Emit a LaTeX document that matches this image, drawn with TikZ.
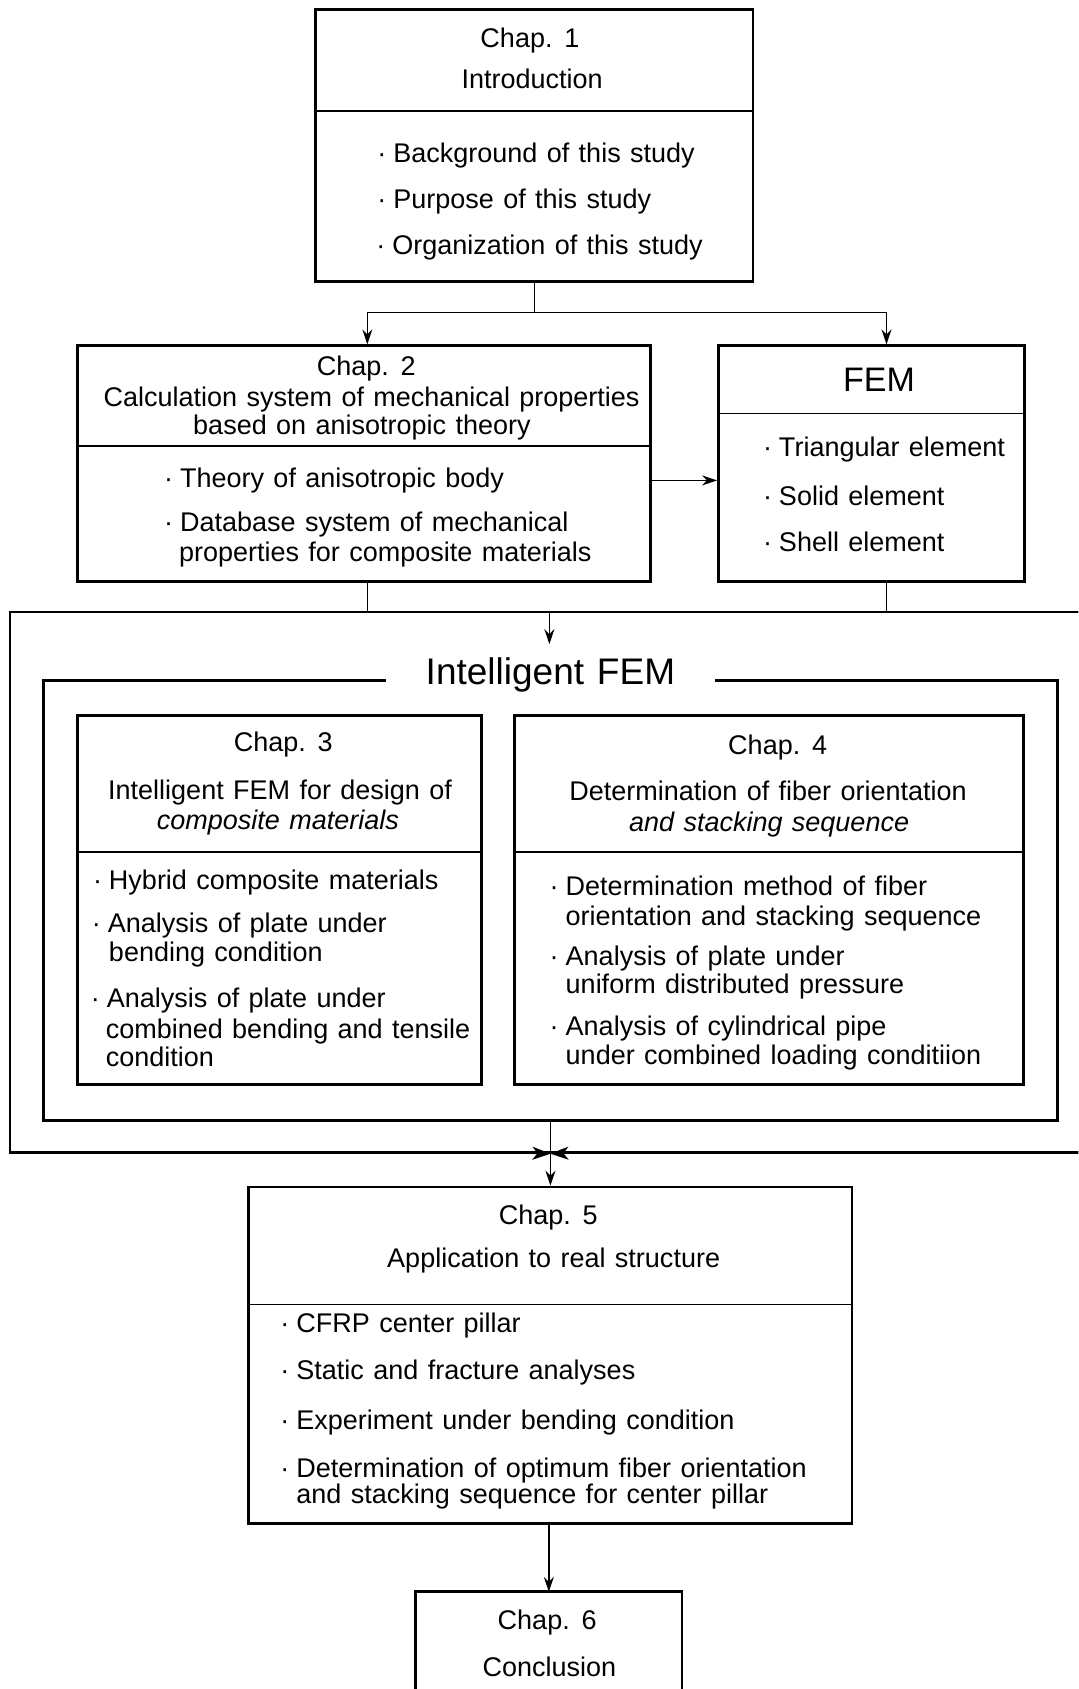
\documentclass[tikz,border=0pt]{standalone}
\usepackage{fontspec}
\setmainfont[WordSpace=1.25]{Liberation Sans}
\usetikzlibrary{fit,arrows.meta}
\newcommand\bul{\llap{·\hspace{7pt}}}
\begin{document}
\begin{tikzpicture}[x=1.0769pt,y=-1.0769pt,
  boxst/.style={draw,line width=2.8pt,inner sep=0pt},
  area/.style={inner sep=0pt},
  divl/.style={line width=1.6pt},
  ln/.style={line width=1.5pt},
  arr/.style={line width=1.5pt,-{Stealth[length=15pt,width=10pt,inset=5pt]}},
  tip/.style={line width=1.5pt,-{Stealth[length=18pt,width=13pt,inset=5pt]}},
  txt/.style={inner sep=0pt,font=\fontsize{27}{30}\selectfont},
  ctr/.style={txt,anchor=base},
  lft/.style={txt,anchor=base west},
  big/.style={inner sep=0pt,anchor=base,font=\fontsize{34}{38}\selectfont}]
\clip (0,0) rectangle (1001,1568);
\fill[white] (0,0) rectangle (1001,1568);

% Chap 1
\node[boxst,fit={(293,9) (699,261)}] (c1) {};
\draw[divl] (c1.west |- 0,103) -- (c1.east |- 0,103);
\node[ctr] (c1a) at (492,44) {Chap. 1};
\node[ctr] (c1b) at (494,82) {Introduction};
\node[lft] (c1i1) at (365,151) {\bul Background of this study};
\node[lft] (c1i2) at (365,194) {\bul Purpose of this study};
\node[lft] (c1i3) at (364,236) {\bul Organization of this study};

% Chap 2
\node[boxst,fit={(72,321) (604,540)}] (c2) {};
\draw[divl] (c2.west |- 0,414) -- (c2.east |- 0,414);
\node[ctr] (c2a) at (340,349) {Chap. 2};
\node[ctr] (c2b) at (345,377) {Calculation system of mechanical properties};
\node[ctr] (c2c) at (336,403) {based on anisotropic theory};
\node[lft] (c2i1) at (167,453) {\bul Theory of anisotropic body};
\node[lft] (c2i2) at (167,493) {\bul Database system of mechanical};
\node[lft] (c2i3) at (166,521) {properties for composite materials};

% FEM
\node[boxst,fit={(667,321) (951,540)}] (fem) {};
\draw[divl] (fem.west |- 0,384) -- (fem.east |- 0,384);
\node[big] (fema) at (816,363) {FEM};
\node[lft] (femi1) at (723,424) {\bul Triangular element};
\node[lft] (femi2) at (723,469) {\bul Solid element};
\node[lft] (femi3) at (723,512) {\bul Shell element};

% connectors top
\coordinate (j1) at (c1.south |- 0,290);
\coordinate (jl) at (341,290);
\coordinate (jr) at (823,290);
\draw[ln] (c1.south) -- (j1);
\draw[ln] (jl) -- (jr);
\draw[arr] (jl) -- (jl |- c2.north);
\draw[arr] (jr) -- (jr |- fem.north);
\draw[arr] (c2.east |- 0,446) -- (fem.west |- 0,446);

% outer area
\node[draw,line width=2.2pt,inner sep=0pt,fit={(9,568) (1020,1070)}] (outer) {};
\draw[ln] (jl |- c2.south) -- (jl |- outer.north);
\draw[ln] (jr |- fem.south) -- (jr |- outer.north);
\coordinate (jt) at (510,568);
\coordinate (jte) at (510,598);
\draw[arr] (jt) -- (jte);

% inner Intelligent FEM box
\node[draw,line width=3pt,inner sep=0pt,fit={(40,632) (982,1040)}] (inner) {};
\node[big,fill=white,anchor=center,inner xsep=40pt,inner ysep=4pt,font=\fontsize{37}{40}\selectfont] (ifem) at (511,627) {Intelligent FEM};

% Chap 3
\node[boxst,fit={(72,664) (447,1007)}] (c3) {};
\draw[divl] (c3.west |- 0,791) -- (c3.east |- 0,791);
\node[ctr] (c3a) at (263,698) {Chap. 3};
\node[ctr] (c3b) at (260,742) {Intelligent FEM for design of};
\node[ctr] (c3c) at (258,770) {\itshape composite materials};
\node[lft] (c3i1) at (101,826) {\bul Hybrid composite materials};
\node[lft] (c3i2) at (100,866) {\bul Analysis of plate under};
\node[lft] (c3i3) at (101,893) {bending condition};
\node[lft] (c3i4) at (99,935) {\bul Analysis of plate under};
\node[lft] (c3i5) at (98,964) {combined bending and tensile};
\node[lft] (c3i6) at (98,990) {condition};

% Chap 4
\node[boxst,fit={(478,664) (950,1007)}] (c4) {};
\draw[divl] (c4.west |- 0,791) -- (c4.east |- 0,791);
\node[ctr] (c4a) at (722,700) {Chap. 4};
\node[ctr] (c4b) at (713,743) {Determination of fiber orientation};
\node[ctr] (c4c) at (714,772) {\itshape and stacking sequence};
\node[lft] (c4i1) at (525,831) {\bul Determination method of fiber};
\node[lft] (c4i2) at (525,859) {orientation and stacking sequence};
\node[lft] (c4i3) at (525,896) {\bul Analysis of plate under};
\node[lft] (c4i4) at (525,922) {uniform distributed pressure};
\node[lft] (c4i5) at (525,961) {\bul Analysis of cylindrical pipe};
\node[lft] (c4i6) at (525,988) {under combined loading conditiion};

% Chap 5
\node[boxst,fit={(231,1102) (791,1414)}] (c5) {};
\draw[divl] (c5.west |- 0,1211) -- (c5.east |- 0,1211);
\node[ctr] (c5a) at (509,1137) {Chap. 5};
\node[ctr] (c5b) at (514,1177) {Application to real structure};
\node[lft] (c5i1) at (275,1237) {\bul CFRP center pillar};
\node[lft] (c5i2) at (275,1281) {\bul Static and fracture analyses};
\node[lft] (c5i3) at (275,1327) {\bul Experiment under bending condition};
\node[lft] (c5i4) at (275,1372) {\bul Determination of optimum fiber orientation};
\node[lft] (c5i5) at (275,1396) {and stacking sequence for center pillar};

% converging arrows at bottom of outer area
\coordinate (jb) at (inner.south |- outer.south);
\coordinate (jbl) at (470,1070);
\coordinate (jbr) at (550,1070);
\draw[ln] (inner.south) -- (jb);
\draw[tip] (jbl) -- (jb);
\draw[tip] (jbr) -- (jb);
\draw[arr] (jb) -- (jb |- c5.north);

% Chap 6
\node[area,fit={(386,1478) (633,1620)}] (c6) {};
\draw[line width=2.8pt] (c6.south west) -- (c6.north west) -- (c6.north east) -- (c6.south east);
\node[ctr] (c6a) at (508,1513) {Chap. 6};
\node[ctr] (c6b) at (510,1556) {Conclusion};
\draw[arr] (c5.south -| c6.north) -- (c6.north);
\end{tikzpicture}
\end{document}
